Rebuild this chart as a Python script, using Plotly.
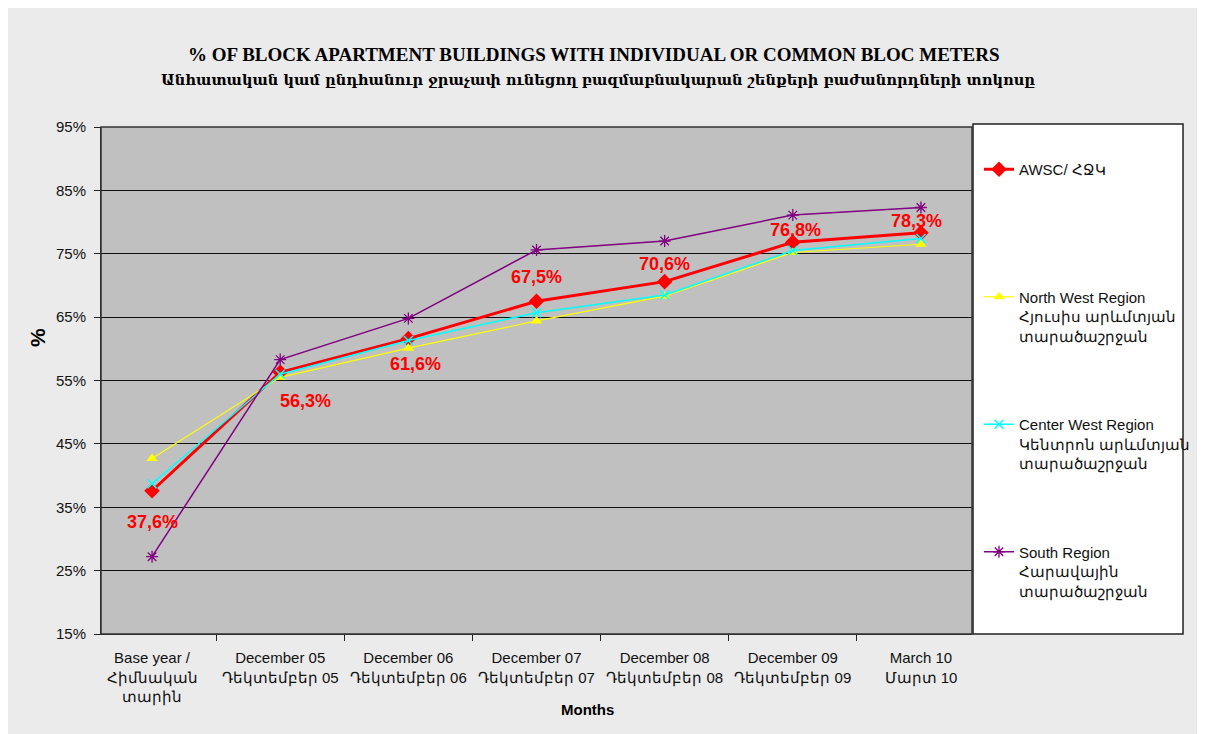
import plotly.graph_objects as go

OFF = 8                      # page body margin around the figure
W, H = 1205, 734
L, R, T, B = 101 - OFF, 972 - OFF, 127 - OFF, 634 - OFF   # plot area in figure pixels

months = [
    "Base year /<br>Հիմնական<br>տարին",
    "December 05<br>Դեկտեմբեր 05",
    "December 06<br>Դեկտեմբեր 06",
    "December 07<br>Դեկտեմբեր 07",
    "December 08<br>Դեկտեմբեր 08",
    "December 09<br>Դեկտեմբեր 09",
    "March 10<br>Մարտ 10",
]
awsc = [37.6, 56.3, 61.6, 67.5, 70.6, 76.8, 78.3]
north_west = [42.7, 55.5, 60.1, 64.4, 68.3, 75.2, 76.5]
center_west = [38.7, 56.0, 61.3, 65.7, 68.5, 75.5, 77.4]
south = [27.2, 58.3, 64.8, 75.6, 77.0, 81.1, 82.3]

yticks = [15, 25, 35, 45, 55, 65, 75, 85, 95]

# label offsets (px) for the AWSC data labels
lab_dx = [0, 25, 7, 0, 0, 3, -4]
lab_dy = [31, 29, 25, -24, -18, -12, -12]

def px_x(p):
    # page pixel -> paper coordinate
    return (p - OFF - L) / (R - L)

def px_y(p):
    return (B - (p - OFF)) / (B - T)

fig = go.Figure()
fig.add_trace(go.Scatter(
    x=months, y=awsc, name="AWSC/ ՀՋԿ<br> <br> ",
    mode="lines+markers", line=dict(color="#ff0000", width=3),
    marker=dict(symbol="diamond", size=12, color="#ff0000"),
    legendgroup="a",
))
fig.add_trace(go.Scatter(
    x=months, y=north_west, name="North West Region<br>Հյուսիս արևմտյան<br>տարածաշրջան",
    mode="lines+markers", line=dict(color="#ffff00", width=1.2),
    marker=dict(symbol="triangle-up", size=10, color="#ffff00"),
    legendgroup="b",
))
fig.add_trace(go.Scatter(
    x=months, y=center_west, name="Center West Region<br>Կենտրոն արևմտյան<br>տարածաշրջան",
    mode="lines+markers", line=dict(color="#00ffff", width=1.5),
    marker=dict(symbol="x-thin-open", size=9, color="#00ffff", line=dict(color="#00ffff", width=1.5)),
    legendgroup="c",
))
fig.add_trace(go.Scatter(
    x=months, y=south, name="South Region<br>Հարավային<br>տարածաշրջան",
    mode="lines+markers", line=dict(color="#800080", width=1.5),
    marker=dict(symbol="asterisk-open", size=10, color="#800080", line=dict(color="#800080", width=1.3)),
    legendgroup="d",
))

for m, v, dx, dy in zip(months, awsc, lab_dx, lab_dy):
    fig.add_annotation(x=m, y=v, text=f"{v:.1f}%".replace(".", ","), showarrow=False,
                       xshift=dx, yshift=-dy,
                       font=dict(family="Liberation Sans", size=18, color="#ff0000", weight="bold"))

shapes = [
    # legend box
    dict(type="rect", xref="paper", yref="paper", x0=px_x(973), x1=px_x(1183), y0=px_y(634), y1=px_y(124),
         fillcolor="white", line=dict(color="#222", width=1.5), layer="below"),
    # plot border
    dict(type="rect", xref="paper", yref="paper", x0=0, x1=1, y0=0, y1=1,
         line=dict(color="#333", width=1.5), layer="above"),
]

fig.update_layout(
    width=W, height=H,
    margin=dict(l=L, r=W - R, t=T, b=H - B),
    paper_bgcolor="#ebebeb", plot_bgcolor="#c0c0c0",
    font=dict(family="Liberation Sans", size=15, color="#111"),
    shapes=shapes,
    showlegend=True,
    legend=dict(x=px_x(979), y=px_y(153), xanchor="left", yanchor="top",
                bgcolor="rgba(0,0,0,0)", borderwidth=0,
                traceorder="grouped", tracegroupgap=66, valign="top",
                font=dict(family="Liberation Sans", size=15, color="#111")),
    xaxis=dict(showgrid=False, zeroline=False, ticks="outside", tickson="boundaries",
               ticklen=6, tickcolor="#222", showline=True, linecolor="#222",
               ticklabelstandoff=10, tickfont=dict(size=15, color="#111")),
    yaxis=dict(range=[15, 95], tickvals=yticks, ticktext=[f"{v}%" for v in yticks],
               showgrid=True, gridcolor="#111", gridwidth=1.3, zeroline=False,
               ticks="outside", ticklen=6, tickcolor="#222", showline=True, linecolor="#222",
               ticklabelstandoff=5, tickfont=dict(size=15, color="#111")),
)

center = dict(xanchor="center", yanchor="middle", showarrow=False, xref="paper", yref="paper")
fig.add_annotation(x=px_x(594), y=px_y(55),
                   text="% OF BLOCK APARTMENT BUILDINGS WITH INDIVIDUAL OR COMMON BLOC METERS",
                   font=dict(family="Liberation Serif", size=19, color="#000", weight="bold"), **center)
fig.add_annotation(x=px_x(598), y=px_y(80),
                   text="Անհատական կամ ընդհանուր ջրաչափ ունեցող բազմաբնակարան շենքերի բաժանորդների տոկոսը",
                   font=dict(family="DejaVu Serif", size=14.6, color="#000", weight="bold"), **center)
fig.add_annotation(x=px_x(37), y=px_y(338), text="%", textangle=-90,
                   font=dict(size=21, color="#000", weight="bold"), **center)
fig.add_annotation(x=px_x(587), y=px_y(710), text="Months",
                   font=dict(size=15, color="#000", weight="bold"), **center)

fig.write_html("out.html")
